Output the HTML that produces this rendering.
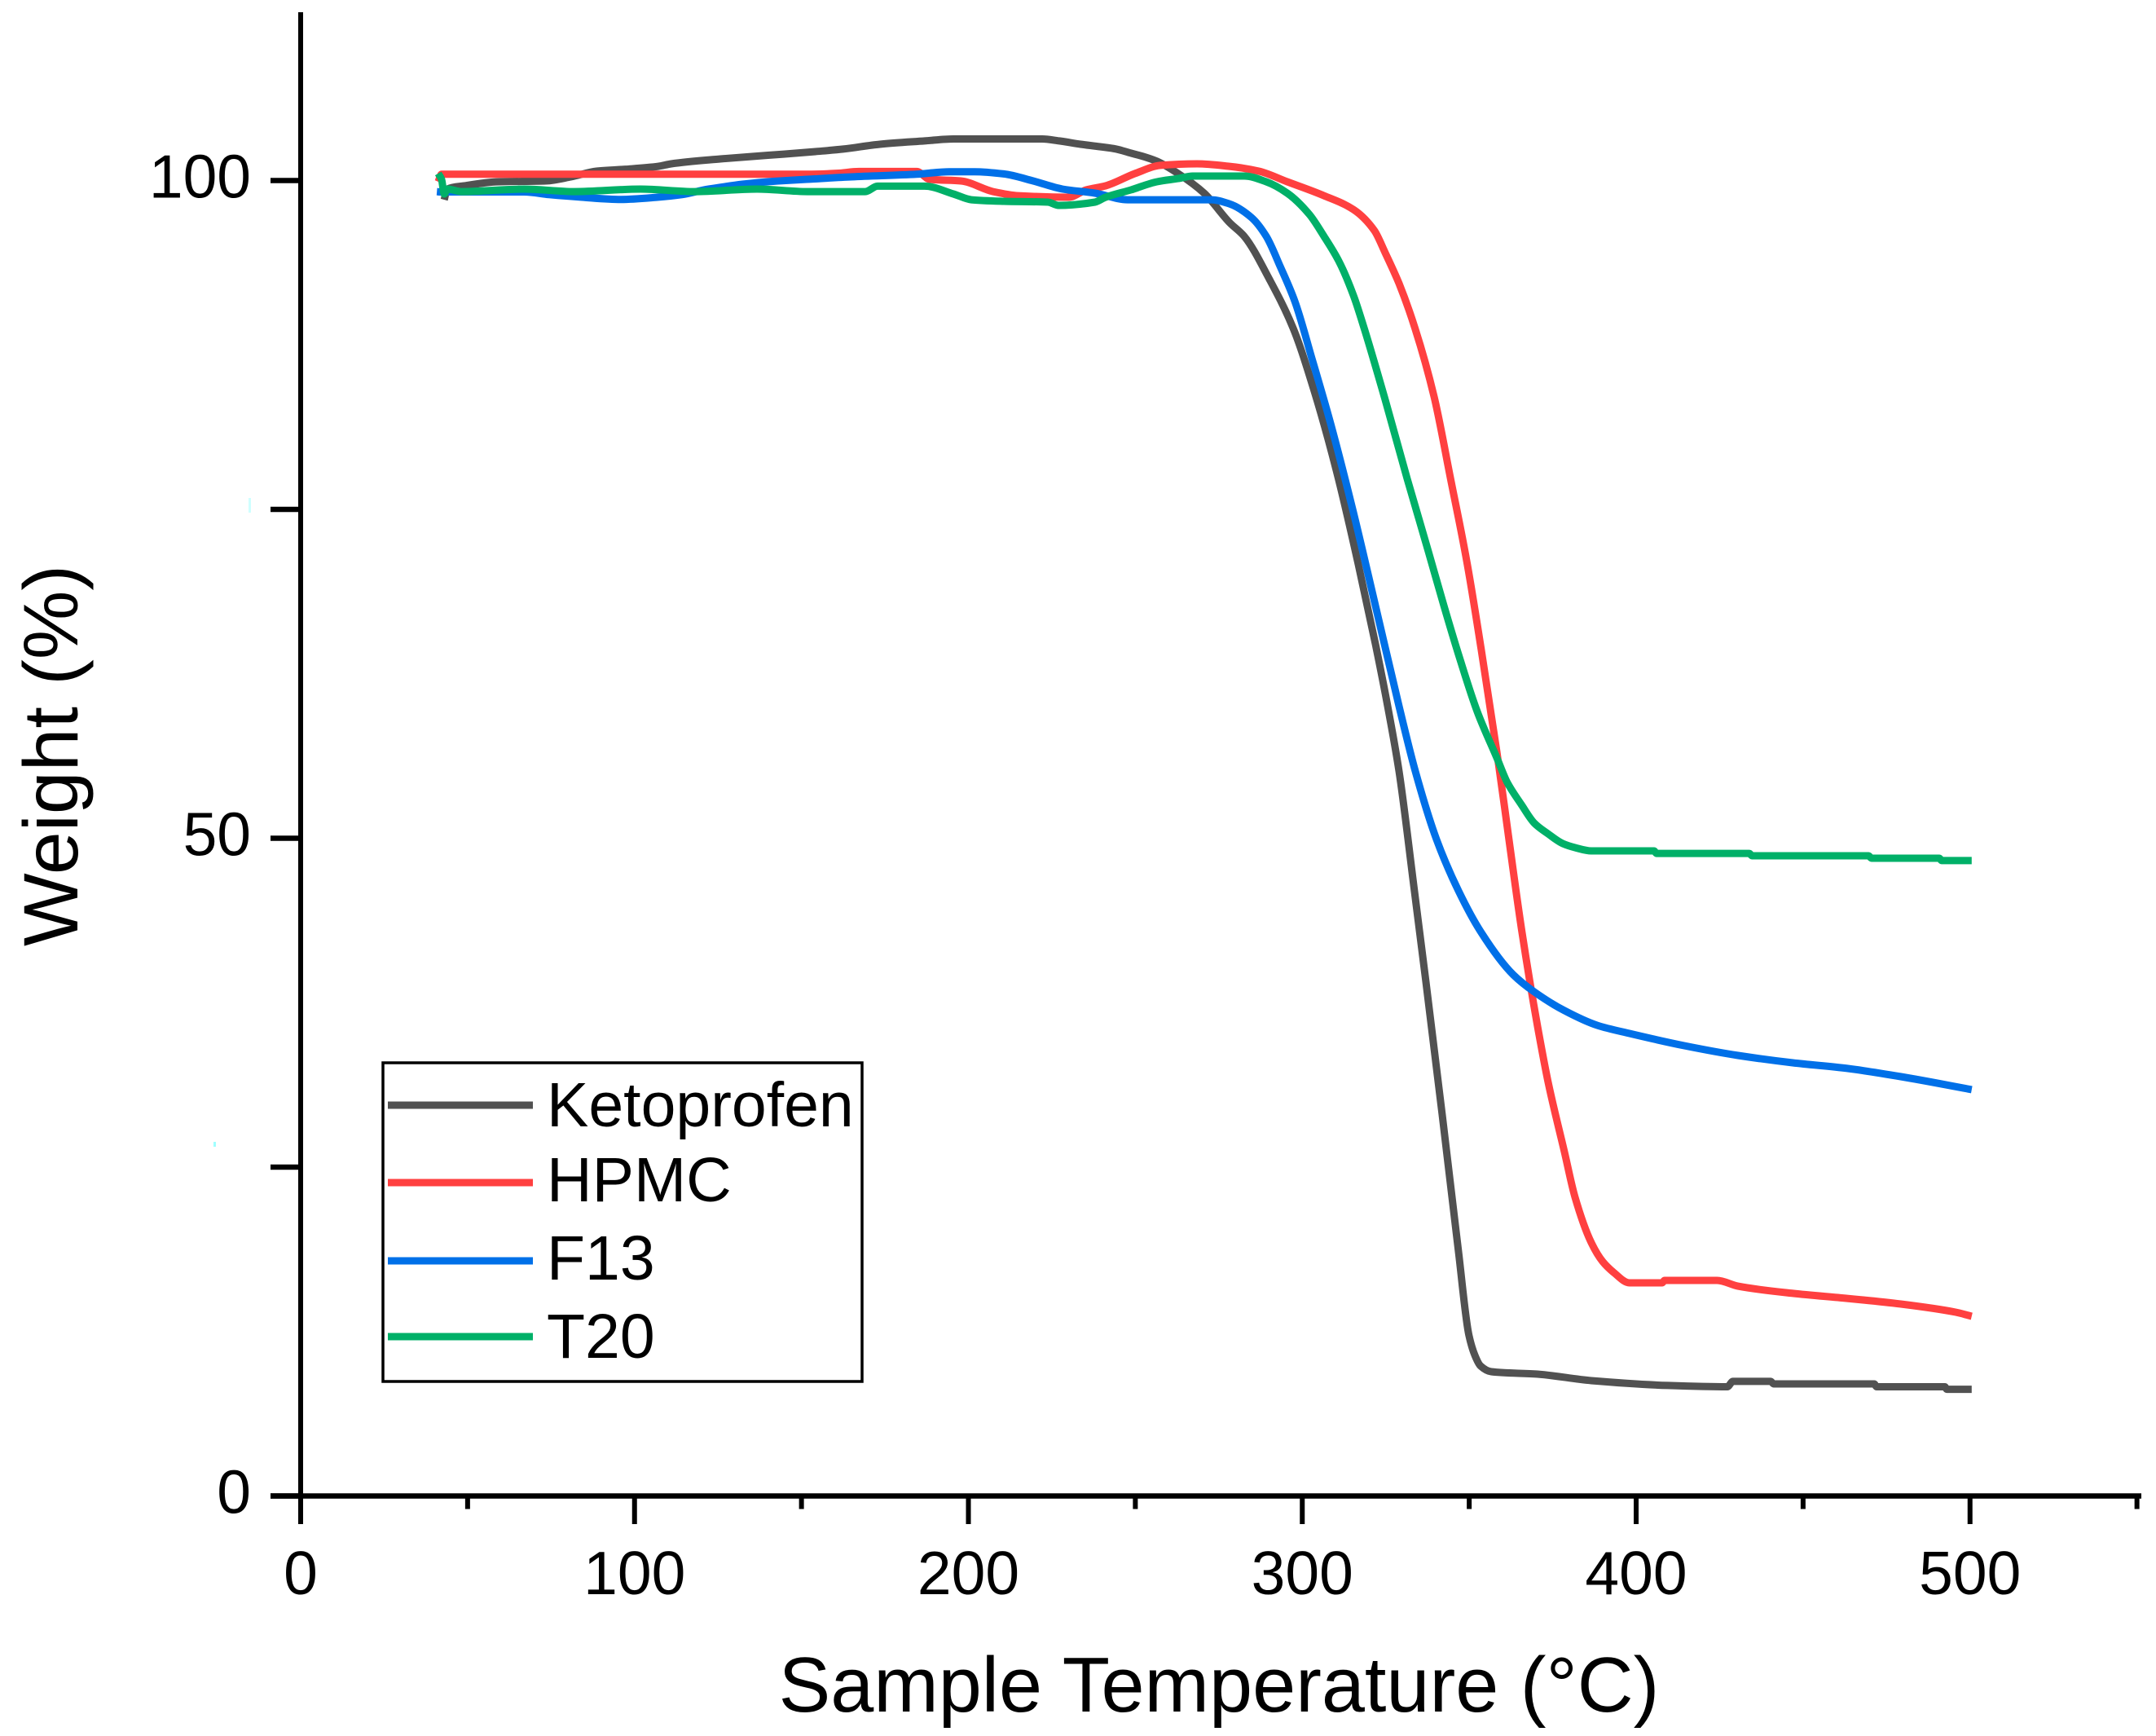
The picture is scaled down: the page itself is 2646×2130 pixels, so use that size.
<!DOCTYPE html>
<html lang="en">
<head>
<meta charset="utf-8">
<title>Weight vs Sample Temperature</title>
<style>
html,body{margin:0;padding:0;background:#fff;}
svg{display:block;}
text{font-family:"Liberation Sans",Arial,sans-serif;fill:#000;}
</style>
</head>
<body>
<svg id="chart" xmlns="http://www.w3.org/2000/svg" width="2646" height="2130" viewBox="0 0 2646 2130">
  <rect x="0" y="0" width="2646" height="2130" fill="#ffffff"/>
  <rect x="305" y="611" width="3" height="18" fill="#cfffff"/>
  <rect x="262" y="1401" width="3" height="6" fill="#a0ffff"/>
  <g id="series-layer"></g>
  <g id="axes-layer"></g>
  <text x="1496" y="2100" font-size="95.4" text-anchor="middle">Sample Temperature (°C)</text>
  <text transform="translate(95 927) rotate(-90)" font-size="95" text-anchor="middle">Weight (%)</text>
  <g>
    <rect x="470" y="1304" width="588" height="391" fill="#ffffff" stroke="#000" stroke-width="3.5"/>
    <line x1="476" x2="654" y1="1356" y2="1356" stroke="#515151" stroke-width="9"/>
    <line x1="476" x2="654" y1="1451" y2="1451" stroke="#ff4040" stroke-width="9"/>
    <line x1="476" x2="654" y1="1547" y2="1547" stroke="#0070e8" stroke-width="9"/>
    <line x1="476" x2="654" y1="1640" y2="1640" stroke="#00b068" stroke-width="9"/>
    <text x="671" y="1382" font-size="77">Ketoprofen</text>
    <text x="671" y="1474" font-size="77">HPMC</text>
    <text x="671" y="1570" font-size="77">F13</text>
    <text x="671" y="1666" font-size="77">T20</text>
  </g>
</svg>
<script>
const xMajorTicks = [0, 100, 200, 300, 400, 500];
const xMinorTicks = [50, 150, 250, 350, 450, 550];
const yTicks = [0, 25, 50, 75, 100];
const yLabelTicks = [0, 50, 100];

const ketoTemp = [43,43.9,49,59.3,73.5,81,88.6,97.4,107.1,111,125.7,135.2,144.7,154.2,162.5,173.5,186.9,195.5,222.1,227.2,233.6,239.4,244.3,248.7,253.1,256.5,262.8,270.6,278.2,282.6,290.2,297.3,303.6,310.2,316.8,321.9,325.6,329,333.4,337,341.9,346.8,349.9,351.7,353.4,356.6,370.5,386.6,409.5,427.3,429,440.3,441.2,471.3,472,492.5,493,500.5];
const ketoWeight = [98.54,99.35,99.6,99.91,99.97,100.28,100.71,100.86,101.08,101.27,101.64,101.83,102.01,102.2,102.39,102.76,103.01,103.16,103.16,103.01,102.76,102.57,102.39,102.08,101.77,101.46,100.53,99.04,96.81,95.76,92.47,88.75,83.98,77.97,70.79,64.78,60.01,55.05,46.38,39.13,29.03,18.56,12.24,10.69,9.88,9.45,9.26,8.77,8.4,8.3,8.71,8.71,8.52,8.52,8.3,8.3,8.11,8.11];

const hpmcTemp = [41.2,42.2,151.8,160.6,167.2,184.5,188.4,197.7,207.4,215,230.1,235.3,241.1,249.9,257.5,268.5,278.2,287,295.5,306.5,315.3,321.6,324.8,329,333.8,339.5,344.4,349.2,353.6,358.3,361.9,365.6,370.5,373.6,378.5,381.7,386.6,390,393.2,398,407.8,408.5,424.2,430.5,446.9,463.2,479.3,495.7,500.5];
const hpmcWeight = [99.91,100.48,100.48,100.55,100.69,100.69,100.09,99.97,99.16,98.85,98.73,99.29,99.6,100.53,101.15,101.27,101.08,100.71,99.91,98.85,97.8,96.19,94.52,92.16,88.75,83.55,77.35,71.16,64.34,56.54,49.91,43.22,35.66,31.51,26.18,22.71,19.24,17.81,17.01,16.2,16.2,16.39,16.39,15.95,15.4,15.02,14.59,13.97,13.66];

const f13Temp = [40.8,41.7,66.9,74.4,84.2,95.9,106.9,114.2,121.3,126.9,132.3,141.1,151.6,165,184.5,194.3,201.8,210.6,219.4,228.2,237.9,247.7,272.8,278.2,284.8,289.2,293.4,297.8,302.9,308.5,315.1,321.9,329,333.9,340.2,346.8,353.4,363.2,369.5,378.5,388.3,398,414.4,430.5,446.9,463.2,479.3,500.5];
const f13Weight = [99.16,99.13,99.13,98.93,98.73,98.56,98.73,98.93,99.31,99.53,99.72,99.93,100.09,100.28,100.48,100.67,100.67,100.5,99.97,99.35,99.04,98.54,98.54,98.23,97.18,95.76,93.46,90.8,86.46,81.51,75,67.69,60.01,55.05,49.91,46,42.91,39.62,38.32,36.9,35.78,35.16,34.23,33.49,32.93,32.5,31.88,30.89];

const t20Temp = [41.2,42.2,43,43.9,48.3,66.9,82,101.8,118.1,136.7,151.8,169.1,172.8,186.9,195.5,200.9,210.6,223.8,227,237.9,241.1,248.7,256.5,262.8,267.2,282.6,289.2,295.5,302.1,306.5,310.9,315.3,318.7,324.8,331.4,337.8,342.4,346.8,352.4,358.3,361.4,365.6,369.5,373.6,378,381.7,386.6,405.4,406.1,433.9,434.7,469.6,470.5,490.8,491.5,500.5];
const t20Weight = [100.53,100.09,98.98,99.35,99.16,99.35,99.16,99.35,99.16,99.35,99.16,99.16,99.57,99.57,98.98,98.54,98.42,98.36,98.11,98.36,98.73,99.29,99.91,100.15,100.34,100.34,99.91,99.04,97.43,95.76,93.9,91.29,88.63,83.36,77.35,71.78,67.69,63.97,59.63,56.1,54.24,52.57,51.15,50.34,49.6,49.29,49.04,49.04,48.85,48.85,48.67,48.67,48.48,48.48,48.3,48.3];

const SVG_NS = 'http://www.w3.org/2000/svg';
const X_ORIGIN = 369;
const X_PER_UNIT = 4.0975;
const Y_ORIGIN = 1835.5;
const Y_PER_UNIT = 16.14;

function xScale(v) { return X_ORIGIN + v * X_PER_UNIT; }
function yScale(v) { return Y_ORIGIN - v * Y_PER_UNIT; }

function make(tag, attrs) {
  const node = document.createElementNS(SVG_NS, tag);
  for (const k in attrs) node.setAttribute(k, attrs[k]);
  return node;
}

/* monotone cubic path through the scaled points, so the curve stays smooth without overshoot */
function monotonePath(px, py) {
  const n = px.length;
  const slope = [];
  for (let i = 0; i < n - 1; i++) slope.push((py[i + 1] - py[i]) / (px[i + 1] - px[i]));
  const tan = [slope[0]];
  for (let i = 1; i < n - 1; i++) {
    if (slope[i - 1] * slope[i] <= 0) { tan.push(0); continue; }
    const h0 = px[i] - px[i - 1];
    const h1 = px[i + 1] - px[i];
    const w0 = 2 * h1 + h0;
    const w1 = h1 + 2 * h0;
    tan.push((w0 + w1) / (w0 / slope[i - 1] + w1 / slope[i]));
  }
  tan.push(slope[n - 2]);
  let d = 'M' + px[0].toFixed(1) + ' ' + py[0].toFixed(1);
  for (let i = 0; i < n - 1; i++) {
    const h = (px[i + 1] - px[i]) / 3;
    d += 'C' + (px[i] + h).toFixed(1) + ' ' + (py[i] + tan[i] * h).toFixed(1) + ' ' +
         (px[i + 1] - h).toFixed(1) + ' ' + (py[i + 1] - tan[i + 1] * h).toFixed(1) + ' ' +
         px[i + 1].toFixed(1) + ' ' + py[i + 1].toFixed(1);
  }
  return d;
}

const seriesLayer = document.getElementById('series-layer');
const axesLayer = document.getElementById('axes-layer');

function drawSeries(name, temps, weights, color) {
  const d = monotonePath(temps.map(xScale), weights.map(yScale));
  const line = make('path', { d: d, fill: 'none', stroke: color, 'stroke-width': 9, 'stroke-linejoin': 'round' });
  
  
  seriesLayer.appendChild(line);
}

drawSeries('ketoprofen', ketoTemp, ketoWeight, '#515151');
drawSeries('hpmc', hpmcTemp, hpmcWeight, '#ff4040');
drawSeries('f13', f13Temp, f13Weight, '#0070e8');
drawSeries('t20', t20Temp, t20Weight, '#00b068');

const yAxisLine = make('line', { x1: X_ORIGIN, x2: X_ORIGIN, y1: 15, y2: 1870, stroke: '#000', 'stroke-width': 6 });


axesLayer.appendChild(yAxisLine);

const xAxisLine = make('line', { x1: 332, x2: 2628, y1: Y_ORIGIN, y2: Y_ORIGIN, stroke: '#000', 'stroke-width': 6.5 });


axesLayer.appendChild(xAxisLine);

xMajorTicks.forEach(function (v) {
  const tick = make('line', { x1: xScale(v), x2: xScale(v), y1: Y_ORIGIN, y2: 1870, stroke: '#000', 'stroke-width': 6 });
  
  
  axesLayer.appendChild(tick);
  const label = make('text', { x: xScale(v), y: 1956, 'font-size': 75, 'text-anchor': 'middle' });
  label.textContent = String(v);
  
  
  axesLayer.appendChild(label);
});

xMinorTicks.forEach(function (v) {
  const tick = make('line', { x1: xScale(v), x2: xScale(v), y1: Y_ORIGIN, y2: 1851.5, stroke: '#000', 'stroke-width': 6 });
  
  
  axesLayer.appendChild(tick);
});

yTicks.forEach(function (v) {
  const tick = make('line', { x1: 332, x2: X_ORIGIN, y1: yScale(v), y2: yScale(v), stroke: '#000', 'stroke-width': 6.5 });
  
  
  axesLayer.appendChild(tick);
});

yLabelTicks.forEach(function (v) {
  const label = make('text', { x: 308, y: yScale(v) + 21, 'font-size': 75, 'text-anchor': 'end' });
  label.textContent = String(v);
  
  
  axesLayer.appendChild(label);
});
</script>
</body>
</html>
